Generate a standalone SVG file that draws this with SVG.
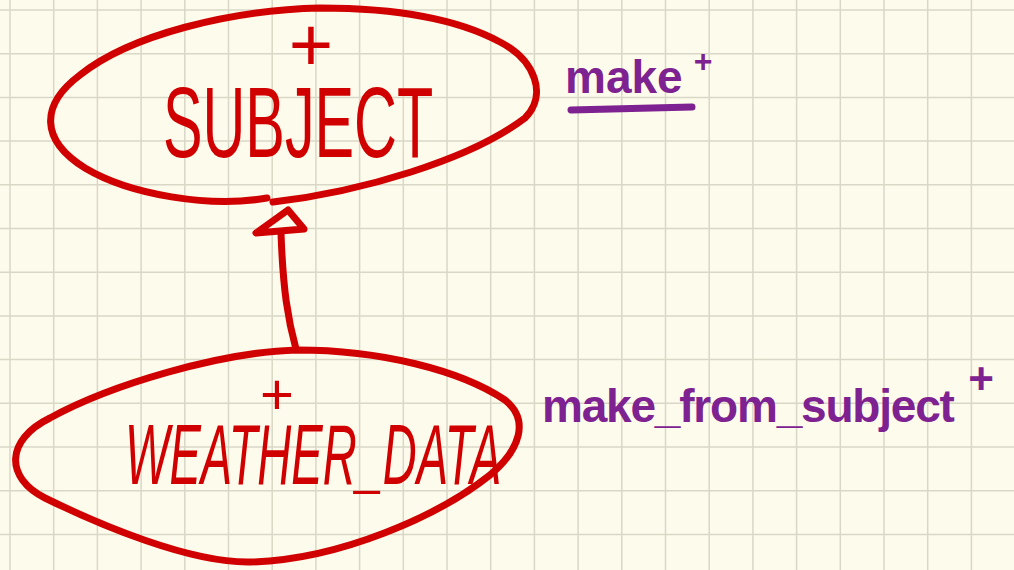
<svg xmlns="http://www.w3.org/2000/svg" width="1014" height="570" viewBox="0 0 1014 570">
  <style>
    .paper { fill: #fdfbec; }
    .grid { fill: none; stroke: #d9d8c7; stroke-width: 1.5; }
    .ink-red { fill: none; stroke: #d10000; stroke-width: 7; stroke-linecap: round; stroke-linejoin: round; }
    .ink-purple { fill: none; stroke: #7d2290; stroke-width: 7; stroke-linecap: round; }
    .hand-red { fill: #d10000; font-family: "Liberation Sans", Arial, sans-serif; }
    .hand-purple { fill: #7d2290; font-family: "Liberation Sans", Arial, sans-serif; font-weight: bold; }
  </style>

  <!-- squared paper -->
  <rect class="paper" x="0" y="0" width="1014" height="570"/>
  <path class="grid" d="M10 0V570M53.7 0V570M97.4 0V570M141.1 0V570M184.8 0V570M228.5 0V570M272.2 0V570M315.9 0V570M359.6 0V570M403.3 0V570M447 0V570M490.7 0V570M534.4 0V570M578.1 0V570M621.8 0V570M665.5 0V570M709.2 0V570M752.9 0V570M796.6 0V570M840.3 0V570M884 0V570M927.7 0V570M971.4 0V570
    M0 10H1014M0 53.7H1014M0 97.4H1014M0 141.1H1014M0 184.8H1014M0 228.5H1014M0 272.2H1014M0 315.9H1014M0 359.6H1014M0 403.3H1014M0 447H1014M0 490.7H1014M0 534.4H1014"/>

  <!-- deferred class SUBJECT -->
  <g id="node-subject">
    <path class="ink-red" d="M273 202 C360 192, 470 160, 525 118 C548 95, 535 60, 500 42 C450 15, 380 8, 320 8 C230 10, 130 35, 80 75 C40 105, 40 140, 85 168 C130 195, 210 208, 267 198"/>
    <text class="hand-red" x="311" y="71" font-size="76" text-anchor="middle">+</text>
    <text class="hand-red" transform="translate(163 157) scale(0.593 1)" font-size="100">SUBJECT</text>
  </g>

  <!-- effective class WEATHER_DATA -->
  <g id="node-weather-data">
    <path class="ink-red" d="M297 350 C380 350, 460 370, 505 400 C530 420, 520 450, 490 475 C440 515, 340 560, 250 562 C190 563, 100 525, 45 498 C5 478, 5 440, 50 418 C110 385, 220 352, 297 350 Z"/>
    <text class="hand-red" x="277" y="414" font-size="58" text-anchor="middle">+</text>
    <text class="hand-red" transform="translate(125 484) scale(0.547 1)" font-size="86" font-style="italic">WEATHER_DATA</text>
  </g>

  <!-- inheritance arrow -->
  <g id="connectors">
    <path class="ink-red" d="M281 233 C283 290, 288 320, 296 349"/>
    <path class="ink-red" d="M288 210 L256 233 L304 229 Z" style="fill:#fdfbec"/>
  </g>

  <!-- creation procedures -->
  <g id="label-make">
    <text class="hand-purple" x="565" y="93" font-size="46">make</text>
    <text class="hand-purple" x="703" y="72" font-size="32" text-anchor="middle">+</text>
    <line class="ink-purple" x1="571" y1="110" x2="692" y2="107"/>
  </g>
  <g id="label-make-from-subject">
    <text class="hand-purple" x="542" y="422" font-size="46" letter-spacing="-1.2">make_from_subject</text>
    <text class="hand-purple" x="981" y="394" font-size="44" text-anchor="middle">+</text>
  </g>
</svg>
